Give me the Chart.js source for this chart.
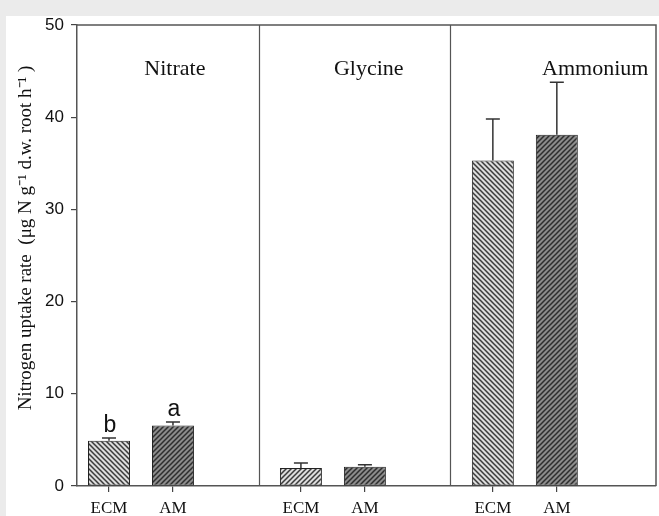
<!DOCTYPE html>
<html><head><meta charset="utf-8">
<script src="https://cdn.jsdelivr.net/npm/chart.js@4.4.1/dist/chart.umd.min.js"></script>
<style>html,body{margin:0;padding:0;background:#fff;overflow:hidden}</style>
</head><body>
<canvas id="c" width="659" height="516"></canvas>
<script>
// ---- data ----
const groups = ['Nitrate', 'Glycine', 'Ammonium'];
const treatments = ['ECM', 'AM'];
const ecmMean = [4.9, 1.95, 35.3];
const ecmSE   = [0.3, 0.55, 4.5];
const amMean  = [6.55, 2.1, 38.1];
const amSE    = [0.4, 0.2, 5.7];
const sigLetters = [['b', 'a'], ['', ''], ['', '']];
const yTickValues = [0, 10, 20, 30, 40, 50];
const yTitle = 'Nitrogen uptake rate  (\u03bcg N g\u207b\u00b9 d.w. root h\u207b\u00b9 )';

// ---- layout / style ----
const ctx = document.getElementById('c').getContext('2d');
function hatch(bg, fg, dir) {
  const s = 5, c = document.createElement('canvas');
  c.width = c.height = s;
  const x = c.getContext('2d');
  x.fillStyle = bg; x.fillRect(0, 0, s, s);
  x.strokeStyle = fg; x.lineWidth = 1.5; x.beginPath();
  if (dir === '\\') {
    x.moveTo(-1, -1); x.lineTo(s + 1, s + 1);
    x.moveTo(-1, s - 1); x.lineTo(1, s + 1);
    x.moveTo(s - 1, -1); x.lineTo(s + 1, 1);
  } else {
    x.moveTo(-1, s + 1); x.lineTo(s + 1, -1);
    x.moveTo(-1, 1); x.lineTo(1, -1);
    x.moveTo(s - 1, s + 1); x.lineTo(s + 1, s - 1);
  }
  x.stroke();
  return ctx.createPattern(c, 'repeat');
}
const ecmHatchDir = ['\\', '/', '\\'];
const ecmFill = ecmHatchDir.map(d => hatch('#dcdcdc', '#3a3a3a', d));
const amFill = groups.map(() => hatch('#8c8c8c', '#2e2e2e', '/'));
const pos = (g, t) => 3 * g + t;
const tickPositions = [];
groups.forEach((_, g) => treatments.forEach((__, t) => tickPositions.push(pos(g, t))));
const dividers = [2.34, 5.33];
const titleX = [1.03, 4.06, 7.6];

const bgPlugin = {
  id: 'bg',
  beforeDraw(chart) {
    const c = chart.ctx;
    c.save();
    c.fillStyle = '#ebebeb'; c.fillRect(0, 0, chart.width, chart.height);
    c.fillStyle = '#ffffff'; c.fillRect(6, 16, chart.width - 6, chart.height - 16);
    c.restore();
  },
  afterDatasetsDraw(chart) {
    const c = chart.ctx, xs = chart.scales.x, ys = chart.scales.y, a = chart.chartArea;
    c.save();
    // frame + dividers
    c.strokeStyle = '#555'; c.lineWidth = 1.5;
    c.beginPath();
    c.moveTo(a.left, a.top); c.lineTo(a.right, a.top); c.lineTo(a.right, a.bottom);
    c.stroke();
    c.lineWidth = 1.2;
    dividers.forEach(v => {
      const px = Math.round(xs.getPixelForValue(v)) + 0.5;
      c.beginPath(); c.moveTo(px, a.top); c.lineTo(px, a.bottom); c.stroke();
    });
    // error bars + letters
    const sets = [[ecmMean, ecmSE], [amMean, amSE]];
    c.strokeStyle = '#333'; c.lineWidth = 1.5;
    sets.forEach(([m, se], t) => {
      m.forEach((v, g) => {
        const px = xs.getPixelForValue(pos(g, t));
        const y0 = ys.getPixelForValue(v), y1 = ys.getPixelForValue(v + se[g]);
        c.beginPath(); c.moveTo(px, y0); c.lineTo(px, y1);
        c.moveTo(px - 7, y1); c.lineTo(px + 7, y1); c.stroke();
        const L = sigLetters[g][t];
        if (L) {
          c.fillStyle = '#111'; c.font = '23px "Liberation Sans", Arial, sans-serif';
          c.textAlign = 'center'; c.textBaseline = 'alphabetic';
          c.fillText(L, px + 1, y1 - 6);
        }
      });
    });
    // group titles
    c.fillStyle = '#111'; c.font = '22px "Liberation Serif", "Times New Roman", serif';
    c.textAlign = 'center'; c.textBaseline = 'alphabetic';
    groups.forEach((g, i) => c.fillText(g, xs.getPixelForValue(titleX[i]), 75));
    // y title
    c.translate(26, 238); c.rotate(-Math.PI / 2);
    c.font = '19px "Liberation Serif", "Times New Roman", serif';
    c.textBaseline = 'middle';
    c.fillText(yTitle, 0, 0);
    c.restore();
  }
};

new Chart(ctx, {
  type: 'bar',
  data: {
    datasets: [
      { label: treatments[0], data: ecmMean.map((v, g) => ({ x: pos(g, 0), y: v })),
        backgroundColor: ecmFill, borderColor: '#222', borderWidth: 1, borderSkipped: false },
      { label: treatments[1], data: amMean.map((v, g) => ({ x: pos(g, 1), y: v })),
        backgroundColor: amFill, borderColor: '#222', borderWidth: 1, borderSkipped: false }
    ]
  },
  options: {
    responsive: false, animation: false,
    datasets: { bar: { grouped: false, barPercentage: 0.656, categoryPercentage: 1 } },
    layout: { padding: { left: 6, top: 25, right: 3, bottom: 0 } },
    plugins: { legend: { display: false }, tooltip: { enabled: false } },
    scales: {
      x: {
        type: 'linear', min: -0.5, max: 8.55, offset: false,
        afterBuildTicks: s => { s.ticks = tickPositions.map(v => ({ value: v })); },
        afterFit: s => { s.height = 30; },
        ticks: {
          autoSkip: false, maxRotation: 0, padding: 6, color: '#111',
          font: { family: '"Liberation Serif", "Times New Roman", serif', size: 17 },
          callback: v => treatments[v % 3]
        },
        grid: { offset: false, drawOnChartArea: false, drawTicks: true, tickLength: 6, color: '#444', lineWidth: 1.2 },
        border: { display: true, color: '#555', width: 1.5 }
      },
      y: {
        min: 0, max: 50,
        afterBuildTicks: s => { s.ticks = yTickValues.map(v => ({ value: v })); },
        afterFit: s => { s.width = 71; },
        ticks: { padding: 7, color: '#111', font: { family: '"Liberation Sans", Arial, sans-serif', size: 17 } },
        grid: { drawOnChartArea: false, drawTicks: true, tickLength: 6, color: '#444', lineWidth: 1.2 },
        border: { display: true, color: '#555', width: 1.5 }
      }
    }
  },
  plugins: [bgPlugin]
});
</script>
</body></html>
